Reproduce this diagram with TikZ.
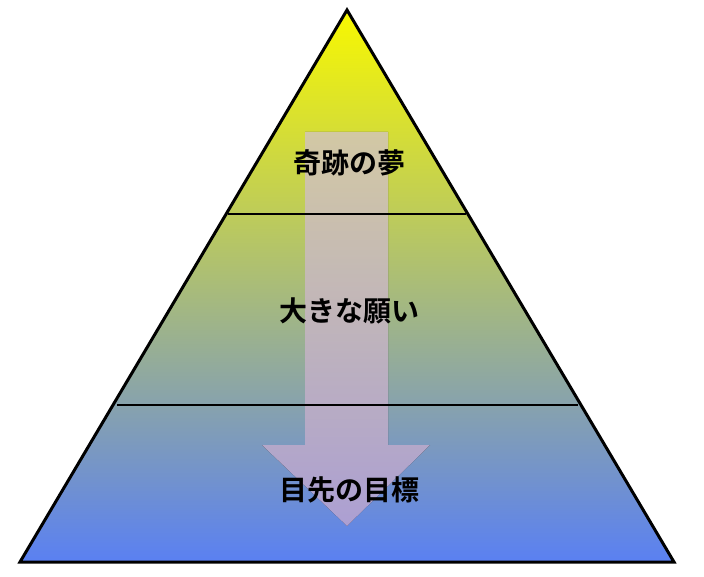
\documentclass[tikz,border=0pt]{standalone}
\usepackage{fontspec}
\newfontfamily\cjk{Noto Sans CJK JP}[BoldFont={Noto Sans CJK JP Bold}]
\begin{document}
\begin{tikzpicture}[x=1pt,y=-1pt,
  lbl/.style={font=\cjk\bfseries\fontsize{28}{31}\selectfont, text=black},
  sep/.style={line width=2.8pt}]
\useasboundingbox (0,0) rectangle (704,577);
\definecolor{topc}{HTML}{F8F800}
\definecolor{botc}{HTML}{5A80F2}
\definecolor{arrtop}{HTML}{F2E6C0}
\definecolor{arrbot}{HTML}{C8B8F2}
\coordinate (A) at (347,10);
\coordinate (L) at (20,562);
\coordinate (R) at (674,562);
\begin{scope}
\clip (A) -- (L) -- (R) -- cycle;
\shade[top color=topc, bottom color=botc, middle color=topc!50!botc] (0,10) rectangle (704,562);
\end{scope}
\fill[top color=arrtop, bottom color=arrbot, opacity=0.85]
  (305,132) -- (388,132) -- (388,445) -- (430,445) -- (347,526) -- (262,445) -- (305,445) -- cycle;
\coordinate (l1) at (228,214); \coordinate (r1) at (466,214);
\coordinate (l2) at (117,405); \coordinate (r2) at (578,405);
\draw[sep] (l1) -- (r1);
\draw[sep] (l2) -- (r2);
\draw[line width=3pt, line join=miter] (A) -- (L) -- (R) -- cycle;
\node[lbl] (t1) at (349,163) {奇跡の夢};
\node[lbl] (t2) at (349,311) {大きな願い};
\node[lbl] (t3) at (349,490) {目先の目標};
\end{tikzpicture}
\end{document}
